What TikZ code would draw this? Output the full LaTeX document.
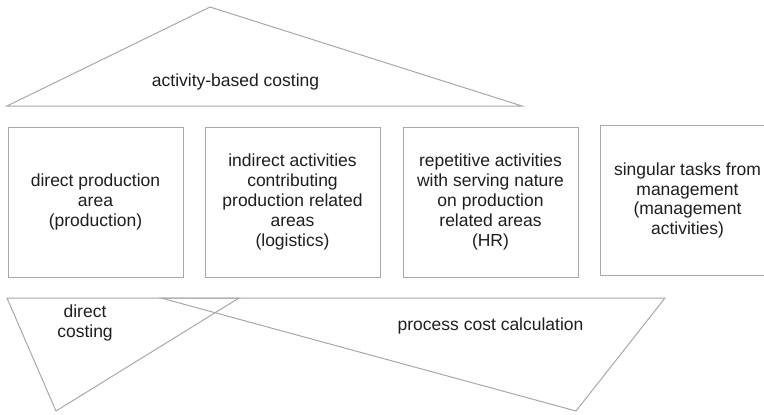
\documentclass[tikz,border=0pt]{standalone}
\usepackage{fontspec}
\setmainfont{Liberation Sans}
\usepackage{tikz}
\usetikzlibrary{positioning}
\definecolor{linegray}{HTML}{A8A8A8}
\definecolor{textgray}{HTML}{1E1E1E}
\tikzstyle{area}=[rectangle, draw=linegray, line width=1pt, align=center, text=textgray, minimum width=175pt, minimum height=150pt, inner sep=0pt]
\tikzstyle{costing}=[draw=linegray, line width=1pt]
\tikzstyle{costtext}=[text=textgray, align=center]

\begin{document}
\begin{tikzpicture}[x=1pt, y=-1pt, node distance=21pt, font=\fontsize{17.5}{19.8}\selectfont]
        \useasboundingbox (0,0) rectangle (764,415);
        % roof
        \coordinate(roofleft) at (7,106);
        \coordinate(roofapex) at (210,7);
        \coordinate(roofright) at (522,106);
        \draw[costing] (roofleft) -- (roofapex) -- (roofright) -- cycle;
        \node(abc)[costtext] at (238,82) {
            activity-based costing
        };
        % areas
        \node(production)[area] at (95.5,202) {
            direct production\\area\\(production)
        };
        \node(logistics)[area, right=of production] {
            indirect activities\\contributing\\production related\\areas\\(logistics)
        };
        \node(hr)[area, right=22pt of logistics] {
            repetitive activities\\with serving nature\\on production\\related areas\\(HR)
        };
        \node(management)[area, right=of hr, yshift=1.5pt] {
            singular tasks from\\management\\(management\\activities)
        };
        % foundation
        \coordinate(dcleft) at (7,298);
        \coordinate(dcright) at (239,298);
        \coordinate(dcbottom) at (56,411);
        \coordinate(pcleft) at (161,298);
        \coordinate(pcright) at (665,298);
        \coordinate(pcbottom) at (576,411);
        \draw[costing] (dcleft) -- (dcright) -- (dcbottom) -- cycle;
        \draw[costing] (pcleft) -- (pcright) -- (pcbottom) -- cycle;
        \node(direct)[costtext] at (85,323) {
            direct\\costing
        };
        \node(process)[costtext] at (493,326) {
            process cost calculation
        };
\end{tikzpicture}
\end{document}
